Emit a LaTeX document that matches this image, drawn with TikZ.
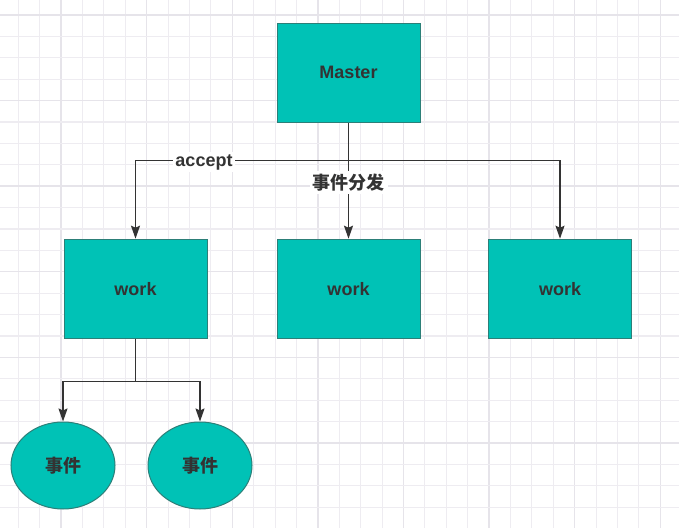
\documentclass[tikz,border=0pt]{standalone}
\usepackage{fontspec}
\setmainfont{Liberation Sans}
\newfontfamily\cjk{Noto Sans CJK SC}
\usetikzlibrary{arrows.meta,shapes.geometric}
\definecolor{tealfill}{HTML}{00C2B6}
\definecolor{tealline}{HTML}{2C7F78}
\definecolor{ink}{HTML}{333333}
\definecolor{gridminor}{HTML}{EEECF1}
\definecolor{gridmajor}{HTML}{E6E4EA}
\tikzset{
  box/.style={rectangle,draw=tealline,line width=1pt,fill=tealfill,minimum width=143pt,minimum height=99pt,inner sep=0pt,text=ink,font=\fontsize{18}{20}\selectfont\bfseries},
  evt/.style={ellipse,draw=tealline,line width=1pt,fill=tealfill,minimum width=104pt,minimum height=87pt,inner sep=0pt,text=ink,font=\fontsize{18}{20}\selectfont\cjk\bfseries},
  conn/.style={draw=ink,line width=1.6pt,-{Stealth[length=13pt,width=9pt,inset=2pt]}},
  lbl/.style={fill=white,inner sep=2pt,text=ink,font=\fontsize{18}{20}\selectfont\bfseries}
}
\begin{document}
\begin{tikzpicture}[x=1pt,y=-1pt]
\useasboundingbox (0,0) rectangle (685,529);
\begin{scope}
\clip (0,0) rectangle (679,527.5);
\foreach \k in {0,...,30}{
  \pgfmathsetmacro{\xx}{18.3+21.4*\k}
  \pgfmathtruncatemacro{\mm}{mod(\k+2,4)}
  \ifnum\mm=0
    \draw[gridmajor,line width=1.4pt] (\xx,0) -- (\xx,527.5);
  \else
    \draw[gridminor,line width=1.1pt] (\xx,0) -- (\xx,527.5);
  \fi
}
\foreach \k in {0,...,23}{
  \pgfmathsetmacro{\yy}{15+21.4*\k}
  \pgfmathtruncatemacro{\mm}{mod(\k,4)}
  \ifnum\mm=0
    \draw[gridmajor,line width=1.4pt] (0,\yy) -- (679,\yy);
  \else
    \draw[gridminor,line width=1.1pt] (0,\yy) -- (679,\yy);
  \fi
}
\end{scope}

\node[box] (m) at (348.5,72.7) {Master};
\node[box] (w1) at (135.5,288.7) {work};
\node[box] (w2) at (348.5,288.7) {work};
\node[box] (w3) at (560,288.7) {work};
\node[evt] (e1) at (63,465.5) {事件};
\node[evt] (e2) at (200,465.5) {事件};

\coordinate (j1) at (348.5,160.5);
\coordinate (j2) at (135.5,381.5);

\draw[conn] (m.south) -- (j1) -| (w1.north);
\draw[conn] (j1) -| (w3.north);
\draw[conn] (j1) -- (w2.north);
\draw[conn] (w1.south) -- (j2) -| (e1.north);
\draw[conn] (j2) -| (e2.north);

\node[lbl] (la) at (204,162) {accept};
\node[lbl,font=\fontsize{18}{20}\selectfont\cjk\bfseries,inner sep=3pt] (lb) at (348.5,182.5) {事件分发};
\end{tikzpicture}
\end{document}
